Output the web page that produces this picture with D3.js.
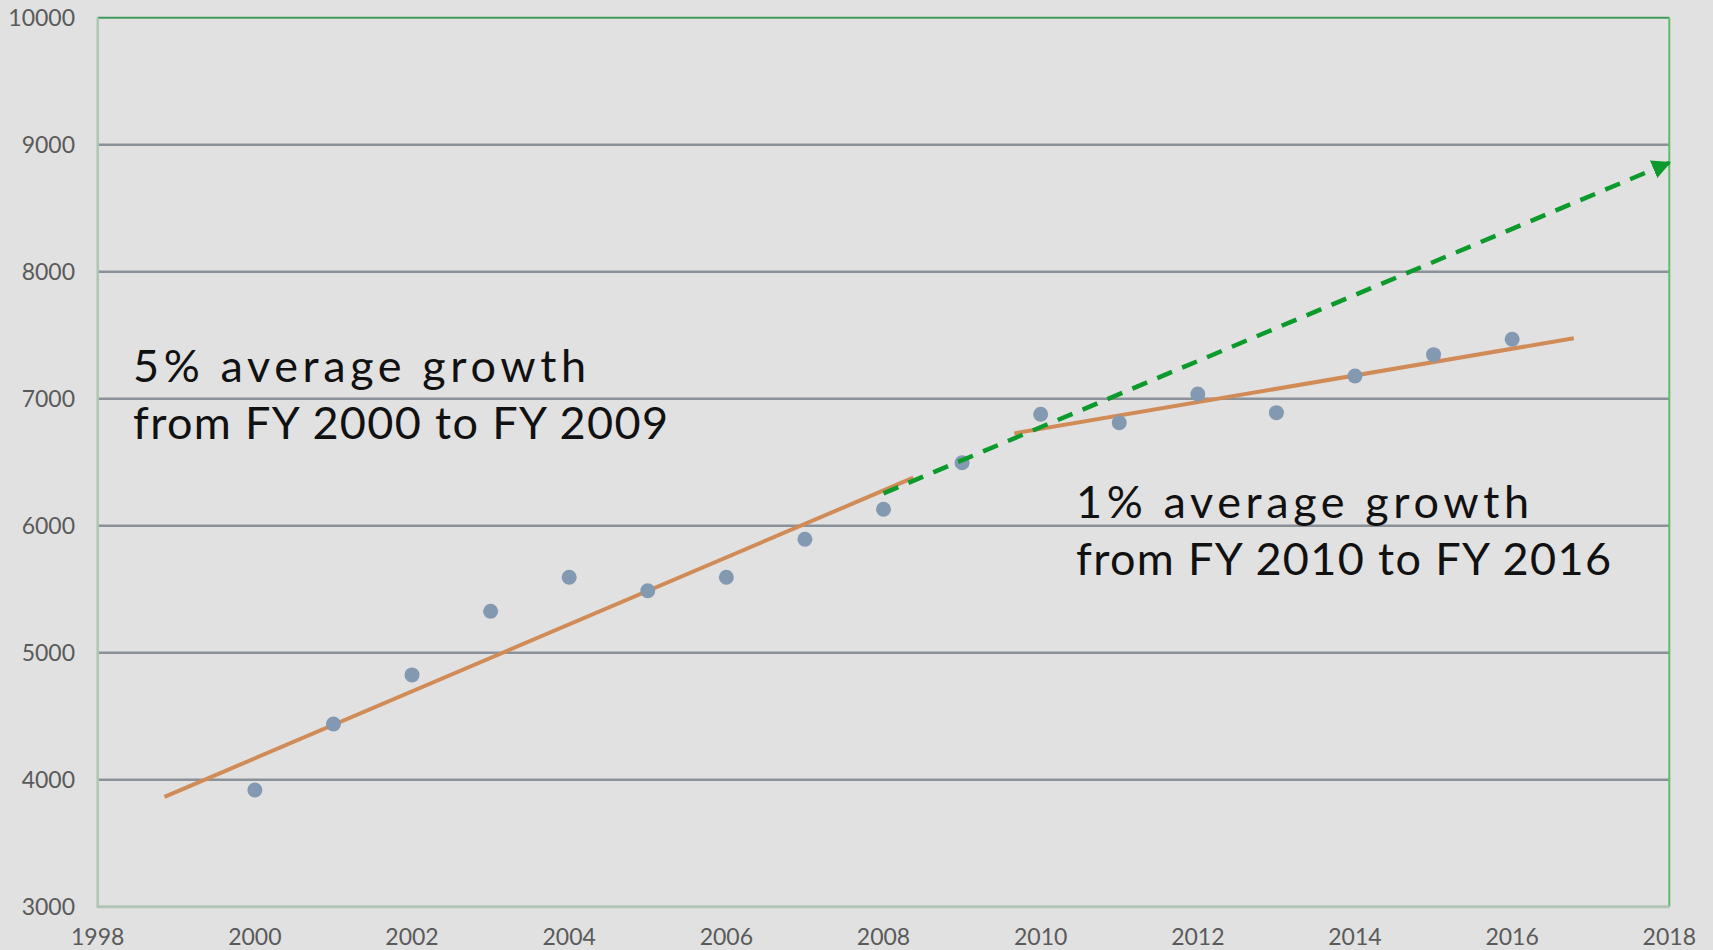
<!DOCTYPE html>
<html>
<head>
<meta charset="utf-8">
<script src="https://cdn.jsdelivr.net/npm/d3@7"></script>
<style>
  html, body { margin: 0; padding: 0; background: #e1e1e1; }
  svg { display: block; }
</style>
</head>
<body>
<div id="chart"></div>
<script>
'use strict';

// ── Data ──
var years = [2000, 2001, 2002, 2003, 2004, 2005, 2006, 2007, 2008, 2009, 2010, 2011, 2012, 2013, 2014, 2015, 2016];
var values = [3919, 4439, 4825, 5326, 5594, 5488, 5594, 5893, 6129, 6496, 6877, 6811, 7037, 6890, 7179, 7347, 7468];

// trend lines: [year, value] end points
var trend1 = [[1998.85, 3865], [2008.38, 6378]];
var trend2 = [[2009.665, 6727], [2016.785, 7476]];
var projection = [[2008.0, 6255], [2018.0, 8858]];

var xTicks = [1998, 2000, 2002, 2004, 2006, 2008, 2010, 2012, 2014, 2016, 2018];
var yTicks = [3000, 4000, 5000, 6000, 7000, 8000, 9000, 10000];

var note1 = ['5% average growth', 'from FY 2000 to FY 2009'];
var note2 = ['1% average growth', 'from FY 2010 to FY 2016'];

// ── Layout ──
var W = 1713, H = 950;
var margin = {left: 97.7, right: W - 1669.3, top: 17.7, bottom: H - 906.7};
var font = 'Lato, "Open Sans", sans-serif';
var noteWidths = [453, 535];  // rendered line widths of the wide display face

var svg = d3.select('#chart').append('svg').attr('width', W).attr('height', H);
svg.append('rect').attr('width', W).attr('height', H).style('fill', '#e1e1e1');

var x = d3.scaleLinear().domain([1998, 2018]).range([margin.left, W - margin.right]);
var y = d3.scaleLinear().domain([3000, 10000]).range([H - margin.bottom, margin.top]);

var defs = svg.append('defs');
defs.append('marker').attr('id', 'arrow')
    .attr('viewBox', '0 0 10 10').attr('refX', 9).attr('refY', 5)
    .attr('markerWidth', 4.2).attr('markerHeight', 4.2).attr('orient', 'auto')
    .append('path').attr('d', 'M0,0 L10,5 L0,10 Z').style('fill', '#0c9a2c');

// gridlines
svg.append('g').selectAll('line')
    .data(yTicks.filter(function(t) { return t > 3000 && t < 10000; })).enter()
    .append('line')
    .attr('x1', x(1998)).attr('x2', x(2018))
    .attr('y1', function(d) { return y(d); }).attr('y2', function(d) { return y(d); })
    .style('stroke', '#8b9199').style('stroke-width', 2.5);

// plot border
svg.append('line').attr('x1', x(1998)).attr('x2', x(2018)).attr('y1', y(10000)).attr('y2', y(10000))
    .style('stroke', '#3e9a5c').style('stroke-width', 2);
svg.append('line').attr('x1', x(2018)).attr('x2', x(2018)).attr('y1', y(10000)).attr('y2', y(3000))
    .style('stroke', '#5cbf6a').style('stroke-width', 2);
svg.append('line').attr('x1', x(1998)).attr('x2', x(1998)).attr('y1', y(10000)).attr('y2', y(3000))
    .style('stroke', '#adc6b2').style('stroke-width', 2.5);
svg.append('line').attr('x1', x(1998) - 1).attr('x2', x(2018)).attr('y1', y(3000)).attr('y2', y(3000))
    .style('stroke', '#b3c4b6').style('stroke-width', 3);

// axis labels
svg.append('g').selectAll('text').data(yTicks).enter()
    .append('text')
    .attr('x', 75).attr('y', function(d) { return y(d); }).attr('dy', '0.36em')
    .attr('text-anchor', 'end')
    .style('font-family', font).style('font-size', '23px').style('fill', '#5a5a5a')
    .text(function(d) { return d; });

svg.append('g').selectAll('text').data(xTicks).enter()
    .append('text')
    .attr('x', function(d) { return x(d); }).attr('y', 945)
    .attr('text-anchor', 'middle')
    .style('font-family', font).style('font-size', '23px').style('fill', '#5a5a5a')
    .text(function(d) { return d; });

// trend lines
var lineGen = d3.line().x(function(d) { return x(d[0]); }).y(function(d) { return y(d[1]); });

svg.append('path').datum(trend1).attr('d', lineGen)
    .style('fill', 'none').style('stroke', '#d18b57').style('stroke-width', 4);
svg.append('path').datum(trend2).attr('d', lineGen)
    .style('fill', 'none').style('stroke', '#d18b57').style('stroke-width', 4);

// points
svg.append('g').selectAll('circle')
    .data(years).enter()
    .append('circle')
    .attr('cx', function(d) { return x(d); })
    .attr('cy', function(d, i) { return y(values[i]); })
    .attr('r', 7.5)
    .style('fill', '#8299b1');

// projection arrow
svg.append('path').datum(projection).attr('d', lineGen)
    .style('fill', 'none').style('stroke', '#0c9a2c').style('stroke-width', 4.5)
    .style('stroke-dasharray', '16,11')
    .attr('marker-end', 'url(#arrow)');

// annotations
function note(lines, x0, y0) {
    lines.forEach(function(s, i) {
        svg.append('text')
            .attr('x', x0).attr('y', y0 + i * 57)
            .attr('textLength', noteWidths[i]).attr('lengthAdjust', 'spacing')
            .style('font-family', font).style('font-size', '45px').style('fill', '#111')
            .text(s);
    });
}
note(note1, 133, 382);
note(note2, 1076, 518);
</script>
</body>
</html>
